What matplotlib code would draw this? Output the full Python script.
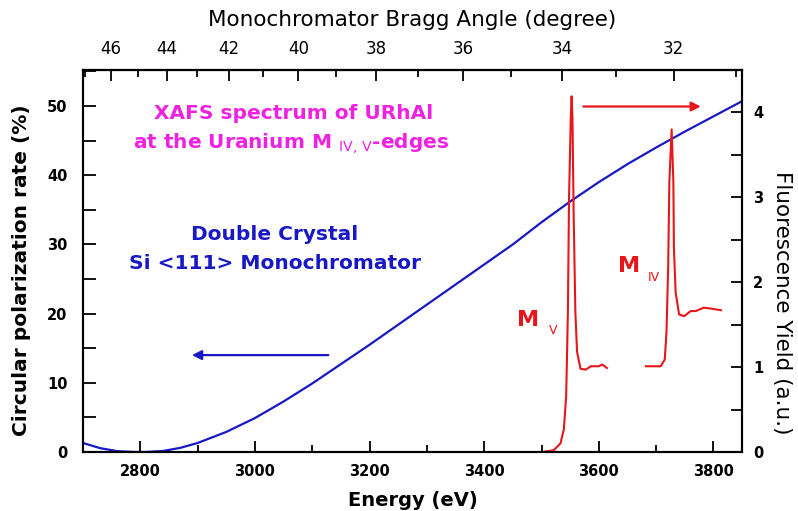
import matplotlib.pyplot as plt
import numpy as np
from matplotlib.ticker import MultipleLocator

plt.rcParams['font.family'] = ['DejaVu Sans']
plt.rcParams['mathtext.fontset'] = 'custom'
plt.rcParams['mathtext.rm'] = 'DejaVu Sans'

BLUE = "#1818c4"
RED = "#e8161b"
MAGENTA = "#ee22e0"

# circular polarization rate (%) vs energy (eV), Si<111> double crystal
pol_energy = [2700, 2730, 2760, 2790, 2810, 2840, 2870, 2900, 2950, 3000, 3050,
              3100, 3150, 3200, 3250, 3300, 3350, 3400, 3450, 3500, 3550,
              3600, 3650, 3700, 3750, 3800, 3850]
pol_rate = [1.3, 0.55, 0.12, 0.0, 0.0, 0.15, 0.6, 1.3, 2.9, 4.9, 7.3,
            9.9, 12.7, 15.5, 18.4, 21.3, 24.2, 27.1, 30.0, 33.2, 36.2,
            39.0, 41.6, 44.0, 46.3, 48.5, 50.7]

# fluorescence yield, M_V edge
mv_energy = [3501, 3521, 3533, 3539, 3543, 3546, 3548, 3551, 3552.5, 3554, 3556,
             3559, 3562, 3568, 3577, 3586, 3600, 3606, 3614]
mv_yield = [0.0, 0.02, 0.1, 0.27, 0.66, 1.65, 3.0, 3.92, 4.19, 3.92, 2.82,
            1.65, 1.18, 0.98, 0.97, 1.01, 1.01, 1.03, 0.99]

# fluorescence yield, M_IV edge
miv_energy = [3682, 3708, 3715, 3718, 3721, 3723, 3727, 3730, 3731, 3734, 3740,
              3749, 3760, 3769, 3783, 3795, 3813]
miv_yield = [1.01, 1.01, 1.09, 1.41, 2.19, 3.18, 3.8, 3.18, 2.39, 1.88, 1.62,
             1.60, 1.66, 1.66, 1.70, 1.69, 1.67]

bragg_ticks = [46, 44, 42, 40, 38, 36, 34, 32]
E_CONST = 1977.0  # hc / 2d for Si(111), eV


def energy_to_angle(e):
    e = np.asarray(e, dtype=float)
    with np.errstate(divide="ignore", invalid="ignore"):
        r = np.clip(E_CONST / e, -1, 1)
    return np.degrees(np.arcsin(r))


def angle_to_energy(t):
    t = np.asarray(t, dtype=float)
    with np.errstate(divide="ignore", invalid="ignore"):
        return E_CONST / np.sin(np.radians(t))


fig = plt.figure(figsize=(7.98, 5.11), dpi=100)
ax = fig.add_axes([0.104, 0.1155, 0.826, 0.7475])
ax2 = ax.twinx()

ax.plot(pol_energy, pol_rate, color=BLUE, lw=1.6)
ax2.plot(mv_energy, mv_yield, color=RED, lw=1.5)
ax2.plot(miv_energy, miv_yield, color=RED, lw=1.5)

ax.set_xlim(2700, 3850)
ax.set_ylim(0, 55.2)
ax2.set_ylim(0, 4.5)

# arrows pointing to the relevant axis
ax.annotate("", xy=(2890, 14.0), xytext=(3128, 14.0),
            arrowprops=dict(arrowstyle="-|>", color=BLUE, lw=1.6,
                            mutation_scale=14, shrinkA=0, shrinkB=0))
ax2.annotate("", xy=(3778, 4.07), xytext=(3573, 4.07),
             arrowprops=dict(arrowstyle="-|>", color=RED, lw=1.6,
                             mutation_scale=14, shrinkA=0, shrinkB=0))

# text annotations
ax.text(3067, 48.9, "XAFS spectrum of URhAl", color=MAGENTA, fontsize=14.5,
        fontweight="bold", ha="center", va="center")
ax.text(3064, 44.6, r"at the Uranium M $_{\mathrm{IV,\,V}}$-edges", color=MAGENTA,
        fontsize=14.5, fontweight="bold", ha="center", va="center")
ax.text(3035, 31.5, "Double Crystal", color=BLUE, fontsize=14.5,
        fontweight="bold", ha="center", va="center")
ax.text(3035, 27.3, "Si <111> Monochromator", color=BLUE, fontsize=14.5,
        fontweight="bold", ha="center", va="center")

ax2.text(3458, 1.48, "M", color=RED, fontsize=16, fontweight="bold",
         ha="left", va="baseline")
ax2.text(3512, 1.39, "V", color=RED, fontsize=9, ha="left", va="baseline")
ax2.text(3633, 2.12, "M", color=RED, fontsize=16, fontweight="bold",
         ha="left", va="baseline")
ax2.text(3685, 2.01, "IV", color=RED, fontsize=9, ha="left", va="baseline")

# ticks
ax.xaxis.set_major_locator(MultipleLocator(200))
ax.xaxis.set_minor_locator(MultipleLocator(100))
ax.yaxis.set_major_locator(MultipleLocator(10))
ax.yaxis.set_minor_locator(MultipleLocator(5))
ax2.yaxis.set_major_locator(MultipleLocator(1))
ax2.yaxis.set_minor_locator(MultipleLocator(0.5))

ax.tick_params(axis="both", which="both", direction="in", width=1.3, labelsize=10.5)
ax.tick_params(axis="x", which="major", length=8, pad=9)
ax.tick_params(axis="x", which="minor", length=5)
ax.tick_params(axis="y", which="both", length=9, pad=11)
ax2.tick_params(axis="y", which="both", direction="in", length=8, width=1.3,
                labelsize=10.5, pad=8)
for lab in ax.get_xticklabels() + ax.get_yticklabels() + ax2.get_yticklabels():
    lab.set_fontweight("bold")

for a in (ax, ax2):
    for s in a.spines.values():
        s.set_linewidth(1.5)

ax.set_xlabel("Energy (eV)", fontsize=14, fontweight="bold", labelpad=8)
ax.set_ylabel("Circular polarization rate (%)", fontsize=14.5, fontweight="bold",
              va="center")
ax.yaxis.set_label_coords(-0.094, 0.476)
ax2.set_ylabel("Fluorescence Yield (a.u.)", fontsize=15.5, rotation=-90,
               va="center")
ax2.yaxis.set_label_coords(1.061, 0.39)

top = ax.secondary_xaxis("top", functions=(energy_to_angle, angle_to_energy))
top.set_xticks(bragg_ticks)
top.xaxis.set_minor_locator(MultipleLocator(1))
top.tick_params(axis="x", which="major", direction="in", length=8, width=1.3,
                labelsize=12, pad=9)
top.tick_params(axis="x", which="minor", direction="in", length=5, width=1.3)
top.spines["top"].set_linewidth(1.5)
top.set_xlabel("Monochromator Bragg Angle (degree)", fontsize=15.5, labelpad=10)

fig.savefig("out.png", dpi=100)
